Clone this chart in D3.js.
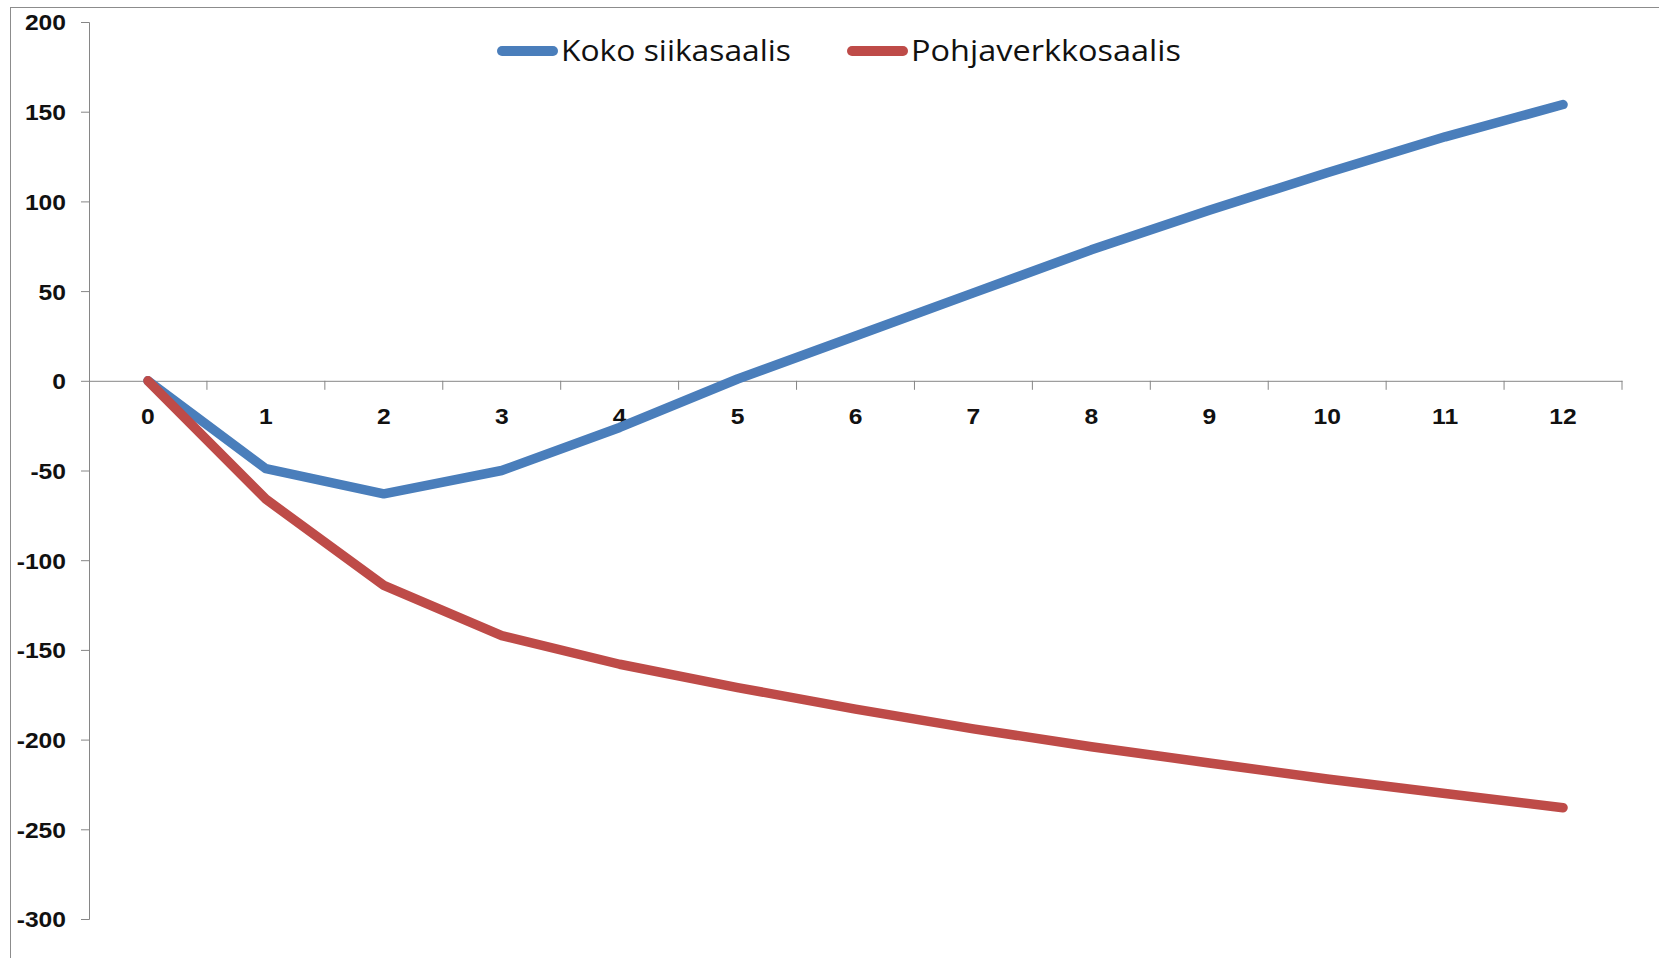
<!DOCTYPE html>
<html>
<head>
<meta charset="utf-8">
<script src="https://cdn.jsdelivr.net/npm/d3@7"></script>
<style>
  body { margin: 0; background: #fff; }
  .tick text { font-family: "Liberation Sans", Arial, sans-serif; font-weight: bold; font-size: 22px; fill: #111; }
  .legend text { font-family: "Open Sans", sans-serif; font-size: 29px; fill: #111; }
</style>
</head>
<body>
<div id="chart"></div>
<script>
// data
const years = [0, 1, 2, 3, 4, 5, 6, 7, 8, 9, 10, 11, 12];
const kokoSiika = [0, -49, -63, -50, -26, 1, 25, 49, 73, 95, 116, 136, 154];
const pohjaverkko = [0, -66, -114, -142, -158, -171, -183, -194, -204, -213, -222, -230, -238];
const yTicks = [200, 150, 100, 50, 0, -50, -100, -150, -200, -250, -300];
const seriesNames = ["Koko siikasaalis", "Pohjaverkkosaalis"];
const colors = ["#4a7ebb", "#be4b48"];

const W = 1659, H = 958;
const plotLeft = 89, plotRight = 1622, plotTop = 22, plotBottom = 919;
const stretch = 1.12; // the original picture is a bit wider than tall

const svg = d3.select("#chart").append("svg")
    .attr("width", W)
    .attr("height", H);

// chart area border
svg.append("rect")
    .attr("x", 10.5).attr("y", 7.5)
    .attr("width", W).attr("height", H)
    .attr("fill", "none")
    .attr("stroke", "#8c8c8c");

const x = d3.scaleBand().domain(years).range([plotLeft, plotRight]).padding(0);
const y = d3.scaleLinear().domain([-300, 200]).range([plotBottom, plotTop]);

// y axis
const yAxis = svg.append("g")
    .attr("transform", `translate(${plotLeft},0)`)
    .call(d3.axisLeft(y).tickValues(yTicks).tickSize(8).tickFormat(d => String(d)));
yAxis.selectAll("path, line").attr("stroke", "#868686");
yAxis.selectAll(".tick text")
    .attr("x", 0)
    .attr("dy", "0.36em")
    .attr("transform", `translate(-23,0) scale(${stretch},1)`);

// x axis at zero, ticks between categories
const xAxis = svg.append("g")
    .attr("transform", `translate(0,${y(0)})`)
    .call(d3.axisBottom(x).tickSize(0));
xAxis.select(".domain").attr("stroke", "#868686");
xAxis.selectAll(".tick text")
    .attr("y", 0)
    .attr("dy", "0.36em")
    .attr("transform", `translate(0,35) scale(${stretch},1)`);

svg.append("g")
    .selectAll("line")
    .data(years.slice(1).concat(["end"]))
    .join("line")
    .attr("x1", d => d === "end" ? plotRight : x(d))
    .attr("x2", d => d === "end" ? plotRight : x(d))
    .attr("y1", y(0))
    .attr("y2", y(0) + 9)
    .attr("stroke", "#868686");

// lines
const line = d3.line()
    .x((d, i) => x(years[i]) + x.bandwidth() / 2)
    .y(d => y(d));

[kokoSiika, pohjaverkko].forEach((s, i) => {
    svg.append("path")
        .datum(s)
        .attr("d", line)
        .attr("fill", "none")
        .attr("stroke", colors[i])
        .attr("stroke-width", 9.5)
        .attr("stroke-linejoin", "round")
        .attr("stroke-linecap", "round");
});

// legend
const legendX = [497, 847];
const legendW = [230, 270];
const legend = svg.append("g").attr("class", "legend");
seriesNames.forEach((name, i) => {
    legend.append("line")
        .attr("x1", legendX[i] + 5).attr("x2", legendX[i] + 56)
        .attr("y1", 51).attr("y2", 51)
        .attr("stroke", colors[i])
        .attr("stroke-width", 10)
        .attr("stroke-linecap", "round");
    legend.append("text")
        .attr("x", legendX[i] + 64)
        .attr("y", 61)
        .attr("textLength", legendW[i])
        .attr("lengthAdjust", "spacingAndGlyphs")
        .text(name);
});
</script>
</body>
</html>
